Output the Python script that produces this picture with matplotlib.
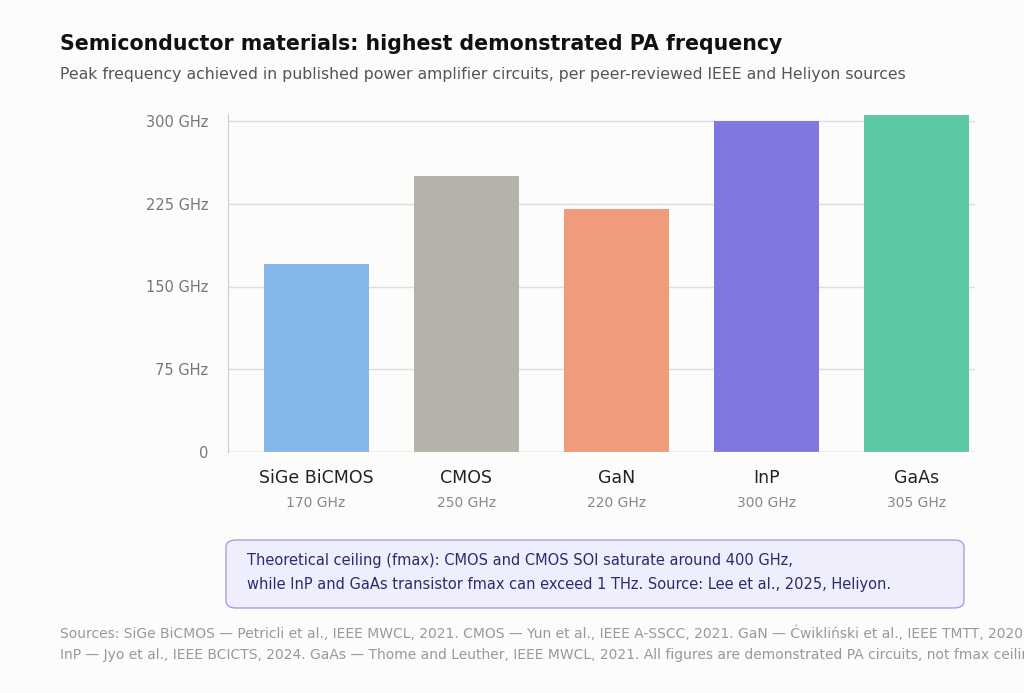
import matplotlib.pyplot as plt
from matplotlib.patches import FancyBboxPatch

materials = ["SiGe BiCMOS", "CMOS", "GaN", "InP", "GaAs"]
freq_ghz = [170, 250, 220, 300, 305]
colors = ["#85b6ea", "#b5b2aa", "#f09b7c", "#7f76de", "#5bc9a4"]
yticks = [0, 75, 150, 225, 300]
ytick_labels = ["0", "75 GHz", "150 GHz", "225 GHz", "300 GHz"]

W, H = 1024, 693
fig = plt.figure(figsize=(W / 100, H / 100), dpi=100)
bg = "#fcfcfb"
fig.patch.set_facecolor(bg)

# axes placed in pixel coords: left 228, right 975, bottom y=452
top_px = 452 - 331 * 306 / 300
ax = fig.add_axes([228 / W, 1 - 452 / H, (975 - 228) / W, (452 - top_px) / H])
ax.set_facecolor(bg)

x = range(len(materials))
ax.bar(x, freq_ghz, width=0.7, color=colors, zorder=3)
ax.set_xlim(-0.587, 4.39)
ax.set_ylim(0, 306)
ax.set_yticks(yticks)
ax.set_yticklabels(ytick_labels, color="#777777", fontsize=10.5)
ax.yaxis.grid(True, color="#dddddd", linewidth=1, zorder=0)
ax.tick_params(axis="y", length=0, pad=14)
ax.tick_params(axis="x", length=0)
ax.set_xticks([])
for s in ["top", "right", "bottom"]:
    ax.spines[s].set_visible(False)
ax.spines["left"].set_color("#cccccc")
ax.axhline(0, color="#cccccc", linewidth=1, zorder=4)

for i, (m, f) in enumerate(zip(materials, freq_ghz)):
    ax.annotate(m, (i, 0), xytext=(0, -19), textcoords="offset points",
                ha="center", va="center", fontsize=12.5, color="#222222")
    ax.annotate(f"{f} GHz", (i, 0), xytext=(0, -37), textcoords="offset points",
                ha="center", va="center", fontsize=10, color="#888888")

fig.text(60 / W, 1 - 44 / H, "Semiconductor materials: highest demonstrated PA frequency",
         fontsize=14.8, fontweight="bold", color="#111111", va="center")
fig.text(60 / W, 1 - 75 / H,
         "Peak frequency achieved in published power amplifier circuits, per peer-reviewed IEEE and Heliyon sources",
         fontsize=11.35, color="#555555", va="center")

box = FancyBboxPatch((226 / W, 1 - 608 / H), (964 - 226) / W, 68 / H,
                     boxstyle="round,pad=0,rounding_size=0.01",
                     transform=fig.transFigure, facecolor="#eeeefc",
                     edgecolor="#a89ee8", linewidth=1)
fig.patches.append(box)
fig.text(247 / W, 1 - 561 / H,
         "Theoretical ceiling (fmax): CMOS and CMOS SOI saturate around 400 GHz,",
         fontsize=10.5, color="#2d2a6e", va="center")
fig.text(247 / W, 1 - 585 / H,
         "while InP and GaAs transistor fmax can exceed 1 THz. Source: Lee et al., 2025, Heliyon.",
         fontsize=10.5, color="#2d2a6e", va="center")

fig.text(60 / W, 1 - 633 / H,
         "Sources: SiGe BiCMOS — Petricli et al., IEEE MWCL, 2021. CMOS — Yun et al., IEEE A-SSCC, 2021. GaN — Ćwikliński et al., IEEE TMTT, 2020.",
         fontsize=10, color="#999999", va="center")
fig.text(60 / W, 1 - 655 / H,
         "InP — Jyo et al., IEEE BCICTS, 2024. GaAs — Thome and Leuther, IEEE MWCL, 2021. All figures are demonstrated PA circuits, not fmax ceilings.",
         fontsize=10, color="#999999", va="center")

fig.savefig("out.png", dpi=100, facecolor=bg)
